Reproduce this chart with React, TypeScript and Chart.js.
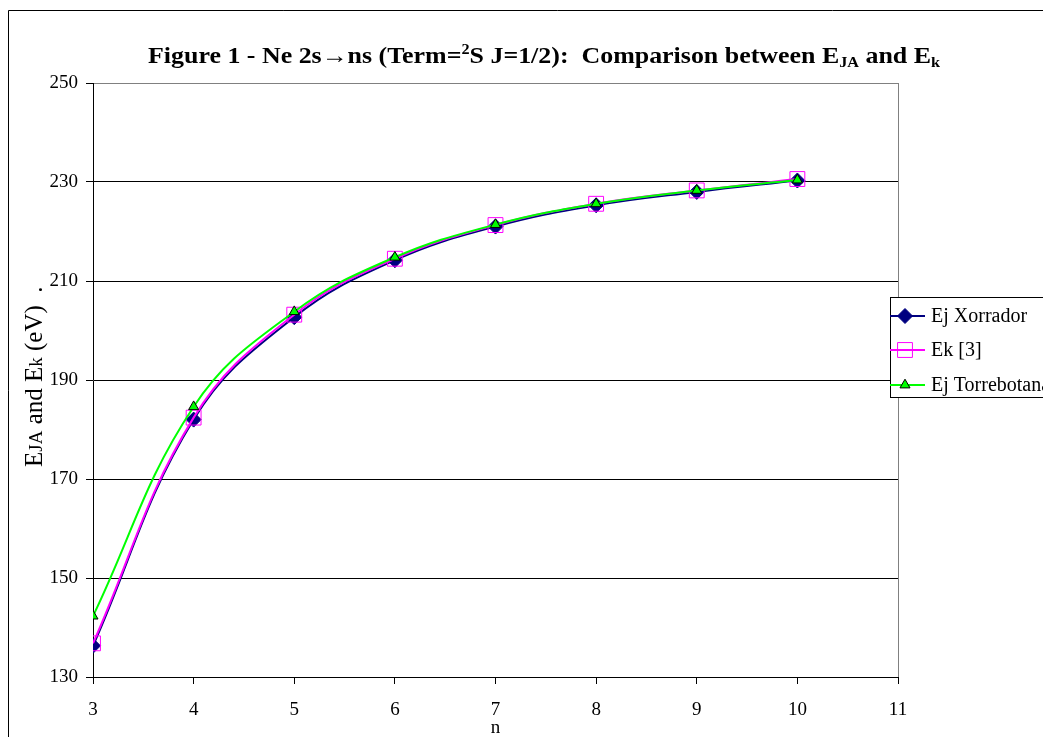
import React, { useEffect, useRef } from "react";
import { Chart, registerables } from "chart.js";
import { drawPoint } from "chart.js/helpers";

Chart.register(...registerables);

// ---------- data ----------
const nValues = [3, 4, 5, 6, 7, 8, 9, 10];
const ejXorrador = [136.3, 182.0, 202.7, 214.2, 221.0, 225.3, 228.0, 230.3];
const ekRef3 = [136.8, 182.4, 203.2, 214.5, 221.3, 225.6, 228.3, 230.6];
const ejTorrebotana = [142.3, 184.6, 203.8, 214.8, 221.4, 225.6, 228.3, 230.4];
const seriesNames = ["Ej Xorrador", "Ek [3]", "Ej Torrebotana"];
const xTickValues = [3, 4, 5, 6, 7, 8, 9, 10, 11];
const yTickValues = [130, 150, 170, 190, 210, 230, 250];
const xAxisLabel = "n";

const titleParts = [
  { t: "Figure 1 - Ne 2s\u2192ns (Term=", k: "n" },
  { t: "2", k: "sup" },
  { t: "S J=1/2):  Comparison between E", k: "n" },
  { t: "JA", k: "sub" },
  { t: " and E", k: "n" },
  { t: "k", k: "sub" },
];
const yTitleParts = [
  { t: "E", k: "n" },
  { t: "JA", k: "s" },
  { t: " and E", k: "n" },
  { t: "k", k: "s" },
  { t: " (eV)  .", k: "n" },
];

// ---------- styles ----------
const SERIF = "'Liberation Serif', 'Times New Roman', serif";
const CANVAS_W = 1100;
const CANVAS_H = 760;

const seriesStyles = [
  { color: "#000080", pointStyle: "rectRot", radius: 7.5, bg: "#000080", pb: "#000080", order: 3 },
  { color: "#FF00FF", pointStyle: "rect", radius: 10.5, bg: "rgba(0,0,0,0)", pb: "#FF00FF", order: 2 },
  { color: "#00FF00", pointStyle: "triangle", radius: 5.8, bg: "#00FF00", pb: "#000000", order: 1 },
];

const decorPlugin = {
  id: "decor",
  beforeDraw(chart: any) {
    const { ctx } = chart;
    ctx.save();
    ctx.fillStyle = "#ffffff";
    ctx.fillRect(0, 0, chart.width, chart.height);
    ctx.restore();
  },
  afterDraw(chart: any) {
    const { ctx, chartArea: ca } = chart;
    ctx.save();
    // right plot border (gray)
    ctx.strokeStyle = "#808080";
    ctx.lineWidth = 1;
    ctx.beginPath();
    const rx = Math.round(ca.right) + 0.5;
    ctx.moveTo(rx, ca.top);
    ctx.lineTo(rx, ca.bottom);
    ctx.stroke();

    // outer chart border (left + top)
    ctx.strokeStyle = "#000000";
    ctx.lineWidth = 1;
    ctx.beginPath();
    ctx.moveTo(1.5, chart.height);
    ctx.lineTo(1.5, 0.5);
    ctx.lineTo(chart.width, 0.5);
    ctx.stroke();

    // title
    const big = `bold 24px ${SERIF}`;
    const small = `bold 15px ${SERIF}`;
    let total = 0;
    const widths = titleParts.map((p) => {
      ctx.font = p.k === "n" ? big : small;
      const w = ctx.measureText(p.t).width;
      total += w;
      return w;
    });
    const targetW = 792;
    const sx = targetW / total;
    const cx = 537;
    const baseY = 53;
    ctx.save();
    ctx.translate(cx - targetW / 2, baseY);
    ctx.scale(sx, 1);
    ctx.fillStyle = "#000";
    ctx.textBaseline = "alphabetic";
    ctx.textAlign = "left";
    let x = 0;
    titleParts.forEach((p, i) => {
      ctx.font = p.k === "n" ? big : small;
      const dy = p.k === "sup" ? -9 : p.k === "sub" ? 4 : 0;
      ctx.fillText(p.t, x, dy);
      x += widths[i];
    });
    ctx.restore();

    // y axis title (rotated)
    ctx.save();
    ctx.translate(35, 457);
    ctx.rotate(-Math.PI / 2);
    ctx.fillStyle = "#000";
    ctx.textBaseline = "alphabetic";
    ctx.textAlign = "left";
    let yx = 0;
    yTitleParts.forEach((p) => {
      ctx.font = p.k === "n" ? `25px ${SERIF}` : `19px ${SERIF}`;
      ctx.fillText(p.t, yx, 0);
      yx += ctx.measureText(p.t).width;
    });
    ctx.restore();

    // legend
    const lx = 883;
    const ly = 287;
    ctx.fillStyle = "#ffffff";
    ctx.fillRect(lx, ly, 200, 100);
    ctx.strokeStyle = "#000000";
    ctx.lineWidth = 1;
    ctx.strokeRect(lx + 0.5, ly + 0.5, 200, 100);
    const rows = [306, 340, 375];
    seriesNames.forEach((name, i) => {
      const s = seriesStyles[i];
      const y = rows[i];
      ctx.strokeStyle = s.color;
      ctx.lineWidth = 2;
      ctx.beginPath();
      ctx.moveTo(lx, y);
      ctx.lineTo(lx + 35, y);
      ctx.stroke();
      ctx.fillStyle = s.bg;
      ctx.strokeStyle = s.pb;
      ctx.lineWidth = 1;
      drawPoint(ctx, { pointStyle: s.pointStyle as any, radius: s.radius, borderWidth: 1, rotation: 0 } as any, lx + 15, y);
      ctx.fillStyle = "#000";
      ctx.font = `20px ${SERIF}`;
      ctx.textBaseline = "middle";
      ctx.textAlign = "left";
      ctx.fillText(name, lx + 41, y + 1);
    });
    ctx.restore();
  },
};

export default function App() {
  const ref = useRef<HTMLCanvasElement | null>(null);

  useEffect(() => {
    if (!ref.current) return;
    const seriesData = [ejXorrador, ekRef3, ejTorrebotana];
    const chart = new Chart(ref.current, {
      type: "line",
      data: {
        datasets: seriesData.map((vals, i) => ({
          label: seriesNames[i],
          data: nValues.map((n, j) => ({ x: n, y: vals[j] })),
          borderColor: seriesStyles[i].color,
          backgroundColor: seriesStyles[i].bg,
          pointBackgroundColor: seriesStyles[i].bg,
          pointBorderColor: seriesStyles[i].pb,
          pointBorderWidth: 1,
          pointStyle: seriesStyles[i].pointStyle as any,
          pointRadius: seriesStyles[i].radius,
          borderWidth: 2,
          tension: 0.4,
          order: seriesStyles[i].order,
          fill: false,
        })),
      },
      options: {
        responsive: false,
        animation: false,
        devicePixelRatio: 1,
        layout: { padding: { left: 26, top: 73, right: 209, bottom: 31 } },
        plugins: {
          legend: { display: false },
          title: { display: false },
          tooltip: { enabled: false },
        },
        scales: {
          x: {
            type: "linear",
            min: 3,
            max: 11,
            afterBuildTicks: (scale: any) => {
              scale.ticks = xTickValues.map((v) => ({ value: v }));
            },
            afterFit: (scale: any) => {
              scale.height = 62;
            },
            grid: {
              drawOnChartArea: false,
              drawTicks: true,
              tickLength: 7,
              tickColor: "#000",
              color: "#000",
            },
            border: { display: true, color: "#000", width: 1 },
            ticks: {
              color: "#000",
              font: { family: SERIF, size: 19 },
              padding: 15,
              maxRotation: 0,
              autoSkip: false,
            },
            title: {
              display: true,
              text: xAxisLabel,
              color: "#000",
              font: { family: SERIF, size: 19 },
              padding: { top: 0, bottom: 0 },
            },
          },
          y: {
            type: "linear",
            min: 130,
            max: 250,
            afterBuildTicks: (scale: any) => {
              scale.ticks = yTickValues.map((v) => ({ value: v }));
            },
            afterFit: (scale: any) => {
              scale.width = 60;
            },
            grid: {
              drawOnChartArea: true,
              drawTicks: true,
              tickLength: 7,
              tickColor: "#000",
              color: (c: any) => (c.tick && c.tick.value === 250 ? "#808080" : "#000"),
            },
            border: { display: true, color: "#000", width: 1 },
            ticks: {
              color: "#000",
              font: { family: SERIF, size: 19 },
              padding: 8,
              autoSkip: false,
            },
          },
        },
      },
      plugins: [decorPlugin],
    });
    return () => chart.destroy();
  }, []);

  return (
    <div style={{ position: "relative", width: 1043, height: 737, marginBottom: -8, overflow: "hidden" }}>
      <canvas
        ref={ref}
        width={CANVAS_W}
        height={CANVAS_H}
        style={{ position: "absolute", left: -1, top: 2, width: CANVAS_W, height: CANVAS_H }}
      />
    </div>
  );
}
